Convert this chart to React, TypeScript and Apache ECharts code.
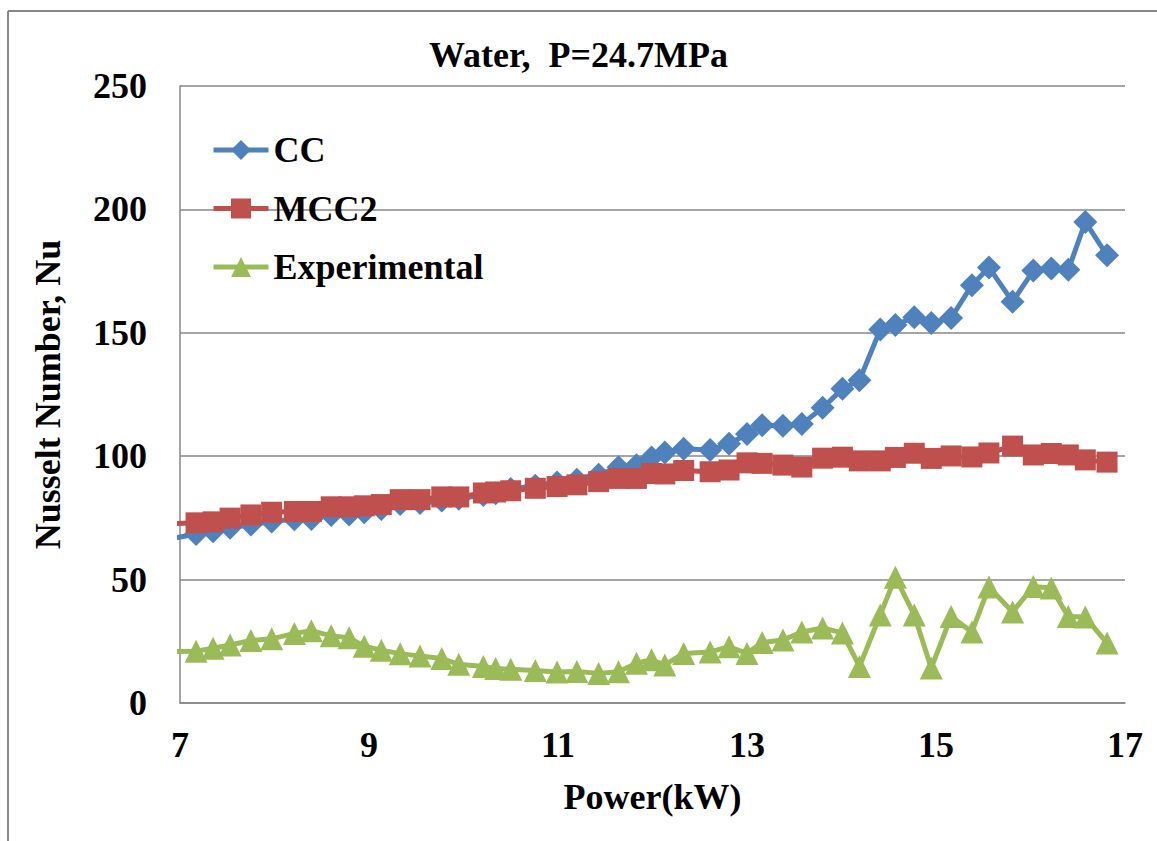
import React, { useEffect, useRef } from "react";
import * as echarts from "echarts";

const power = [6.9, 7.17, 7.35, 7.53, 7.75, 7.97, 8.21, 8.39, 8.6, 8.79, 8.95, 9.13, 9.33, 9.54, 9.77, 9.95, 10.21, 10.34, 10.5, 10.76, 10.99, 11.2, 11.43, 11.64, 11.83, 11.99, 12.13, 12.33, 12.61, 12.81, 13.0, 13.16, 13.38, 13.58, 13.8, 14.01, 14.19, 14.41, 14.57, 14.77, 14.95, 15.16, 15.38, 15.56, 15.81, 16.03, 16.22, 16.4, 16.58, 16.81];
const cc = [66.5, 68.5, 69.6, 71, 72.3, 73.5, 74.5, 74.6, 76.2, 76.4, 77.3, 78.6, 80.6, 81, 82, 82.8, 84.3, 85, 86.7, 88, 89.3, 90.5, 92.5, 95.5, 96.3, 99.5, 101.5, 103, 102.5, 105, 109, 112.5, 112.3, 113, 119.6, 127.3, 130.8, 151.3, 153.2, 156.3, 154, 156, 169.3, 176.5, 162.6, 175.2, 176.1, 175.5, 194.9, 181.4];
const mcc2 = [72.6, 73, 73.4, 74.9, 76.2, 77.3, 77.6, 77.6, 79.5, 79.5, 79.9, 80.4, 82.4, 82.4, 83.5, 83.5, 85.1, 85.5, 86, 87, 87.7, 88.4, 89.7, 91, 91, 93, 92.8, 94.2, 93.7, 94.4, 97.3, 97.1, 96.4, 95.6, 99.2, 99.6, 98.1, 98.1, 99.5, 101.2, 99.1, 100.1, 99.7, 101.3, 104.1, 100.5, 101.1, 100.5, 98.5, 97.6];
const experimental = [20.8, 21, 22.2, 23.5, 25.3, 26, 28.2, 29.3, 27.2, 26.4, 23, 21.4, 20, 19, 18, 15.7, 14.8, 14, 13.7, 13.2, 12.6, 12.8, 12, 12.7, 16.1, 17.5, 15.4, 20.1, 20.7, 22.8, 20.1, 24.5, 25.5, 28.8, 30.4, 28.4, 14.8, 35.7, 51, 35.7, 14.2, 35, 28.8, 47, 36.9, 47.2, 46.6, 35, 34.8, 24.3];

const seriesNames = ["CC", "MCC2", "Experimental"];
const titleText = "Water,  P=24.7MPa";
const xName = "Power(kW)";
const yName = "Nusselt Number, Nu";

const FONT = "'Liberation Serif', 'Times New Roman', serif";
const FS = 36;

export default function App() {
  const ref = useRef<HTMLDivElement>(null);
  useEffect(() => {
    if (!ref.current) return;
    const chart = echarts.init(ref.current, null, { renderer: "svg" });
    const pairs = (ys: number[]) => power.map((x, i) => [x, ys[i]]);
    const colors = ["#4F81BD", "#C0504D", "#9BBB59"];
    const symbols = ["diamond", "rect", "triangle"];
    const sizes = [24, 21, 23];
    const datasets = [cc, mcc2, experimental];
    chart.setOption({
      animation: false,
      backgroundColor: "#ffffff",
      title: {
        text: titleText,
        left: "center",
        top: 37,
        padding: 0,
        textStyle: { fontFamily: FONT, fontWeight: "bold", fontSize: FS, color: "#000" },
      },
      legend: {
        orient: "vertical",
        left: 211,
        top: 132,
        padding: 0,
        itemWidth: 55,
        itemHeight: 25,
        itemGap: 22.5,
        data: seriesNames,
        lineStyle: { width: 5 },
        textStyle: { fontFamily: FONT, fontWeight: "bold", fontSize: FS, color: "#000", lineHeight: 36 },
      },
      grid: { left: 180, top: 86, right: 32, bottom: 138, containLabel: false },
      xAxis: {
        type: "value",
        min: 7,
        max: 17,
        interval: 2,
        name: xName,
        nameLocation: "middle",
        nameGap: 76,
        nameTextStyle: { fontFamily: FONT, fontWeight: "bold", fontSize: FS, color: "#000" },
        axisLine: { show: true, lineStyle: { color: "#878787", width: 1.5 } },
        axisTick: { show: false },
        splitLine: { show: false },
        axisLabel: { margin: 24, fontFamily: FONT, fontWeight: "bold", fontSize: FS, color: "#000" },
      },
      yAxis: {
        type: "value",
        min: 0,
        max: 250,
        interval: 50,
        name: yName,
        nameLocation: "middle",
        nameRotate: 90,
        nameGap: 114,
        nameTextStyle: { fontFamily: FONT, fontWeight: "bold", fontSize: FS, color: "#000" },
        axisLine: { show: true, lineStyle: { color: "#878787", width: 1.5 } },
        axisTick: { show: false },
        splitLine: { show: true, lineStyle: { color: "#878787", width: 1.5 } },
        axisLabel: { margin: 33, fontFamily: FONT, fontWeight: "bold", fontSize: FS, color: "#000" },
      },
      graphic: [
        { type: "line", shape: { x1: 8, y1: 11, x2: 1157, y2: 11 }, style: { stroke: "#888", lineWidth: 2 } },
        { type: "line", shape: { x1: 8, y1: 11, x2: 8, y2: 841 }, style: { stroke: "#888", lineWidth: 2 } },
      ],
      series: seriesNames.map((name, i) => ({
        name,
        type: "line",
        data: pairs(datasets[i]),
        symbol: symbols[i],
        symbolSize: sizes[i],
        clip: true,
        lineStyle: { color: colors[i], width: 5 },
        itemStyle: { color: colors[i], opacity: 1 },
        z: 2 + i,
      })),
    });
    return () => chart.dispose();
  }, []);
  return (
    <div
      ref={ref}
      style={{ position: "fixed", left: 0, top: 0, width: 1157, height: 841, background: "#fff" }}
    />
  );
}
